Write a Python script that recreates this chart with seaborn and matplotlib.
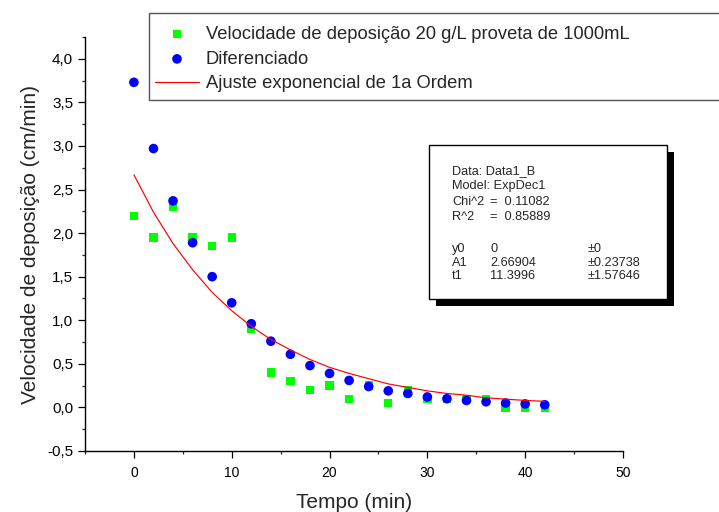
import matplotlib
matplotlib.use("Agg")
import matplotlib.pyplot as plt
from matplotlib.ticker import MultipleLocator, FuncFormatter
from matplotlib.patches import Rectangle
import seaborn as sns
import pandas as pd

# ---- data ----
tempo = [0, 2, 4, 6, 8, 10, 12, 14, 16, 18, 20, 22, 24, 26, 28, 30, 32, 34, 36, 38, 40, 42]
velocidade = [2.20, 1.95, 2.30, 1.95, 1.85, 1.95, 0.90, 0.40, 0.30, 0.20, 0.25, 0.10,
              0.25, 0.05, 0.20, 0.10, 0.10, 0.10, 0.10, 0.00, 0.00, 0.00]
diferenciado = [3.73, 2.97, 2.37, 1.89, 1.50, 1.20, 0.96, 0.76, 0.61, 0.48, 0.39, 0.31,
                0.24, 0.19, 0.16, 0.12, 0.10, 0.08, 0.065, 0.05, 0.04, 0.03]
ajuste = [2.67, 2.24, 1.88, 1.58, 1.32, 1.11, 0.93, 0.78, 0.66, 0.55, 0.46, 0.39,
          0.33, 0.27, 0.23, 0.19, 0.16, 0.14, 0.11, 0.095, 0.08, 0.07]

labels = ["Velocidade de deposição 20 g/L proveta de 1000mL",
          "Diferenciado",
          "Ajuste exponencial de 1a Ordem"]
x_label = "Tempo (min)"
y_label = "Velocidade de deposição (cm/min)"
stats_rows = [("Data: Data1_B", "", ""),
              ("Model: ExpDec1", "", ""),
              ("Chi^2", "=  0.11082", ""),
              ("R^2", "=  0.85889", ""),
              ("y0", "0", "±0"),
              ("A1", "2.66904", "±0.23738"),
              ("t1", "11.3996", "±1.57646")]

df = pd.DataFrame({"tempo": tempo, "vel": velocidade, "dif": diferenciado, "aj": ajuste})

sns.set_style("ticks")
plt.rcParams["font.family"] = ["Liberation Sans", "DejaVu Sans"]

W, H = 719, 512
fig = plt.figure(figsize=(W / 100, H / 100), dpi=100)
ax = fig.add_axes([85 / W, 61 / H, 538 / W, 414 / H])

sns.scatterplot(data=df, x="tempo", y="vel", ax=ax, marker="s", s=36, color="#00ff00",
                edgecolor="none", linewidth=0, label=labels[0], zorder=3)
sns.scatterplot(data=df, x="tempo", y="dif", ax=ax, marker="o", s=48, color="#0000ff",
                edgecolor="none", linewidth=0, label=labels[1], zorder=4)
sns.lineplot(data=df, x="tempo", y="aj", ax=ax, color="#ff0000", linewidth=0.85,
             label=labels[2], zorder=5)

ax.set_xlim(-5, 50)
ax.set_ylim(-0.5, 4.25)
ax.xaxis.set_major_locator(MultipleLocator(10))
ax.xaxis.set_minor_locator(MultipleLocator(5))
ax.yaxis.set_major_locator(MultipleLocator(0.5))
ax.yaxis.set_minor_locator(MultipleLocator(0.25))
ax.yaxis.set_major_formatter(FuncFormatter(lambda v, p: f"{v:.1f}".replace(".", ",")))
ax.xaxis.set_major_formatter(FuncFormatter(lambda v, p: f"{v:.0f}"))

for s in ["top", "right"]:
    ax.spines[s].set_visible(False)
for s in ["left", "bottom"]:
    ax.spines[s].set_linewidth(1.0)
    ax.spines[s].set_color("black")
ax.tick_params(axis="both", which="major", direction="out", length=5, width=0.9,
               colors="black")
ax.tick_params(axis="both", which="minor", direction="out", length=2.5, width=0.9)
ax.tick_params(axis="x", which="major", pad=6, labelsize=10)
ax.tick_params(axis="y", which="major", labelsize=11)
ax.set_xlabel(x_label, fontsize=15, labelpad=9)
ax.set_ylabel(y_label, fontsize=15, labelpad=5)

def fx(px):
    return px / W

def fy(py):
    return 1 - py / H

handles, labs = ax.get_legend_handles_labels()
if ax.get_legend() is not None:
    ax.get_legend().remove()

# legend frame drawn separately so its size matches the reference
fig.add_artist(Rectangle((fx(149), fy(100)), (740 - 149) / W, (100 - 12.7) / H,
                         transform=fig.transFigure, facecolor="white",
                         edgecolor="#555555", linewidth=1.0, zorder=4))
leg = fig.legend(handles, labs, loc="upper left",
                 bbox_to_anchor=(fx(155), fy(26)),
                 borderaxespad=0, fontsize=13.2, frameon=False,
                 handlelength=2.4, handletextpad=0.36, borderpad=0,
                 labelspacing=0.42)
leg.set_zorder(5)

# stats box with drop shadow
fig.add_artist(Rectangle((fx(436), fy(306)), (674 - 436) / W, (306 - 152) / H,
                         transform=fig.transFigure, facecolor="black", edgecolor="none",
                         zorder=6))
fig.add_artist(Rectangle((fx(429), fy(299)), (667 - 429) / W, (299 - 145) / H,
                         transform=fig.transFigure, facecolor="white", edgecolor="black",
                         linewidth=1.0, zorder=7))
row_y = [171, 186.5, 202, 217.5, 249, 262.5, 276]
for (c1, c2, c3), yy in zip(stats_rows, row_y):
    for txt, xx in ((c1, 452), (c2, 490), (c3, 588)):
        if txt:
            fig.text(fx(xx), fy(yy), txt, fontsize=9.2, ha="left", va="center", zorder=8)

fig.savefig("out.png", dpi=100)
